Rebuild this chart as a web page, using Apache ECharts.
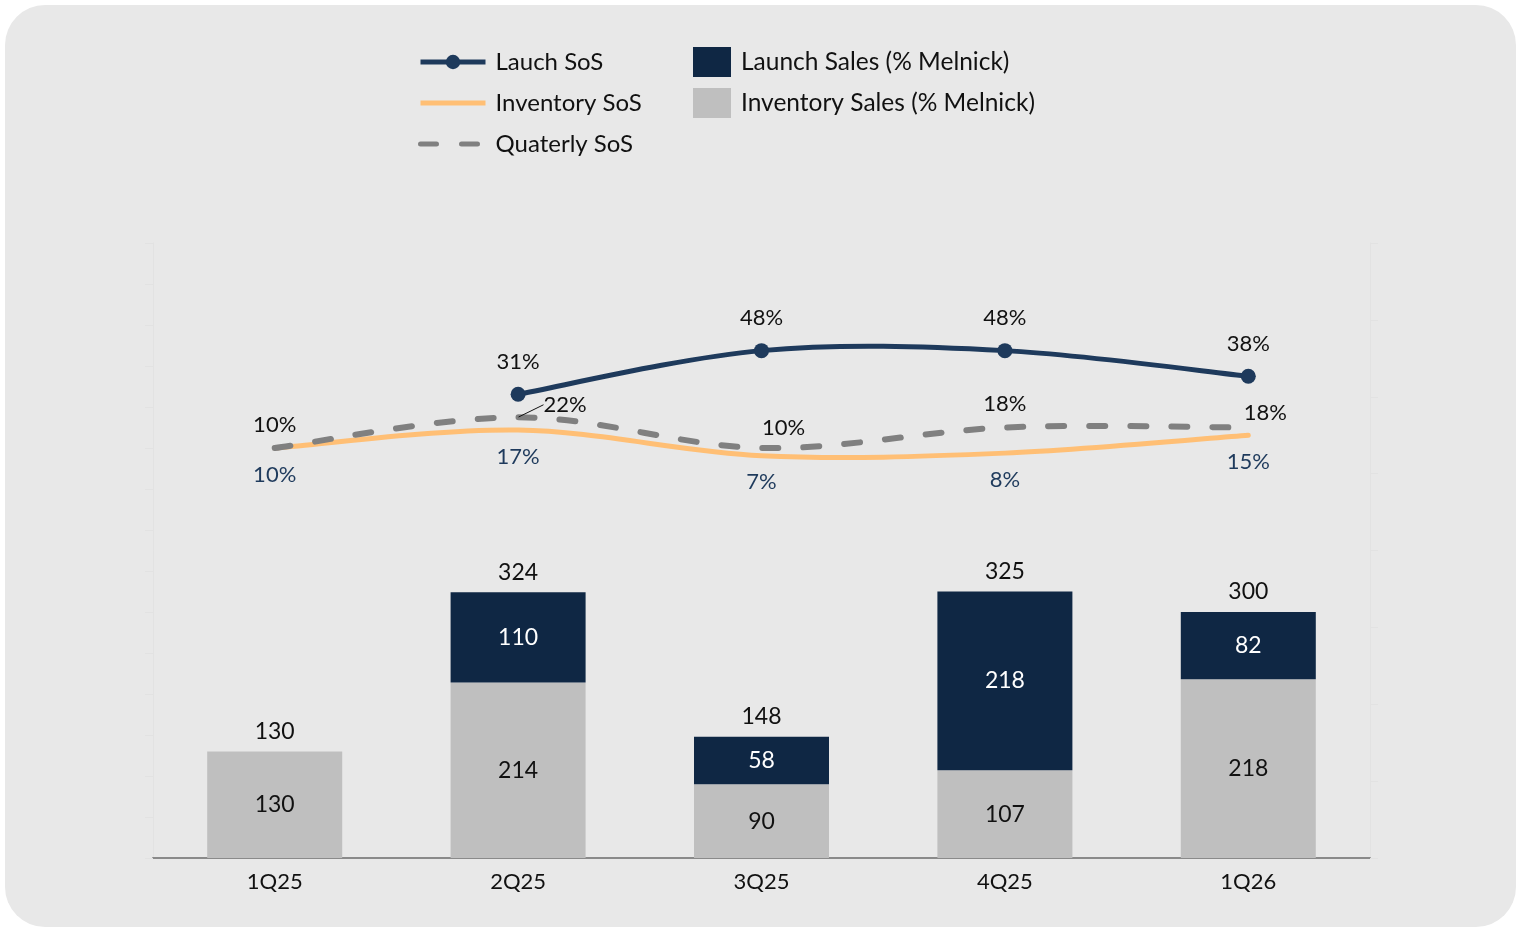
<!DOCTYPE html>
<html lang="en">
  <head>
    <meta charset="UTF-8" />
    <title>Launch and Inventory SoS</title>
    <script src="https://cdn.jsdelivr.net/npm/echarts@6/dist/echarts.min.js"></script>
    <style>
      * { margin: 0; padding: 0; box-sizing: border-box; }
      body { width: 1517px; height: 929px; background: #fff; overflow: hidden; }
      #panel {
        position: absolute; left: 5px; top: 5px; width: 1511px; height: 922px;
        background: #e8e8e8; border-radius: 40px;
      }
      #chart { position: absolute; left: 0; top: 0; width: 1517px; height: 929px; }
    </style>
  </head>
  <body>
    <div id="panel"></div>
    <div id="chart"></div>
    <script>
      // data
      const quarters = ["1Q25", "2Q25", "3Q25", "4Q25", "1Q26"];
      const inventorySales = [130, 214, 90, 107, 218];
      const launchSales = [null, 110, 58, 218, 82];
      const totalSales = [130, 324, 148, 325, 300];
      const launchSoS = [null, 31, 48, 48, 38];
      const inventorySoS = [10, 17, 7, 8, 15];
      const quarterlySoS = [10, 22, 10, 18, 18];

      const FONT = "Lato";
      const NAVY = "#0f2744";
      const LINE_NAVY = "#1e3a5c";
      const ORANGE = "#ffbf75";
      const GRAY_BAR = "#bfbfbf";
      const DASH = "#808080";
      const DASH_PATTERN = [16, 25];

      const chart = echarts.init(document.getElementById("chart"), null, { renderer: "canvas" });

      const pct = (p) => p.value + "%";

      // excel-like smoothed curve (catmull-rom as bezier), drawn once through the axes
      function curveSeries(values, style, z) {
        const pts = values.map((v, i) => [i, v]).filter((p) => p[1] != null);
        return {
          type: "custom", yAxisIndex: 1, silent: true, z: z,
          data: pts,
          renderItem: function (params, api) {
            if (params.dataIndex !== 0) return null;
            const c = pts.map((p) => api.coord(p));
            let d = "M" + c[0][0] + " " + c[0][1];
            for (let i = 0; i < c.length - 1; i++) {
              const p0 = c[Math.max(i - 1, 0)], p1 = c[i], p2 = c[i + 1];
              const p3 = c[Math.min(i + 2, c.length - 1)];
              const a = [p1[0] + (p2[0] - p0[0]) / 6, p1[1] + (p2[1] - p0[1]) / 6];
              const b = [p2[0] - (p3[0] - p1[0]) / 6, p2[1] - (p3[1] - p1[1]) / 6];
              d += " C" + a[0] + " " + a[1] + " " + b[0] + " " + b[1] + " " + p2[0] + " " + p2[1];
            }
            return {
              type: "path",
              shape: { pathData: d },
              style: Object.assign({ fill: "none", lineCap: "round", lineJoin: "round" }, style)
            };
          }
        };
      }

      const option = {
        backgroundColor: "transparent",
        textStyle: { fontFamily: FONT },
        animation: false,
        legend: [
          {
            left: 413, top: 45, orient: "vertical",
            itemWidth: 65, itemHeight: 18, itemGap: 17,
            lineStyle: { width: 5 },
            textStyle: { fontSize: 24, color: "#111", fontFamily: FONT, padding: [0, 0, 0, 5] },
            data: ["Lauch SoS", "Inventory SoS", "Quaterly SoS"]
          },
          {
            left: 688, top: 42, orient: "vertical", icon: "rect",
            itemWidth: 38, itemHeight: 30, itemGap: 11,
            textStyle: { fontSize: 24.5, color: "#111", fontFamily: FONT, padding: [0, 0, 0, 5] },
            data: ["Launch Sales (% Melnick)", "Inventory Sales (% Melnick)"]
          }
        ],
        grid: { left: 153, right: 147, top: 243, bottom: 71 },
        xAxis: {
          type: "category",
          data: quarters,
          axisLine: { lineStyle: { color: "#8a8a8a", width: 2 } },
          axisTick: { show: false },
          axisLabel: { fontSize: 22, color: "#111", fontFamily: FONT, margin: 13 }
        },
        yAxis: [
          {
            type: "value", min: 0, max: 750, interval: 50,
            axisLine: { show: true, lineStyle: { color: "#e2e2e2" } },
            axisTick: { show: true, length: 8, lineStyle: { color: "#e2e2e2" } },
            axisLabel: { show: false },
            splitLine: { show: false }
          },
          {
            type: "value", min: -150, max: 90, interval: 30,
            axisLine: { show: true, lineStyle: { color: "#e2e2e2" } },
            axisTick: { show: true, length: 8, lineStyle: { color: "#e2e2e2" } },
            axisLabel: { show: false },
            splitLine: { show: false }
          }
        ],
        series: [
          {
            name: "Inventory Sales (% Melnick)",
            type: "bar", stack: "sales", barWidth: 135,
            data: inventorySales,
            itemStyle: { color: GRAY_BAR },
            label: { show: true, position: "inside", fontSize: 23, color: "#111", fontFamily: FONT }
          },
          {
            name: "Launch Sales (% Melnick)",
            type: "bar", stack: "sales", barWidth: 135,
            data: launchSales,
            itemStyle: { color: NAVY },
            label: { show: true, position: "inside", fontSize: 23, color: "#fff", fontFamily: FONT }
          },
          {
            name: "Total",
            type: "scatter",
            data: totalSales,
            symbolSize: 1,
            silent: true,
            itemStyle: { color: "rgba(0,0,0,0)", opacity: 1 },
            label: { show: true, position: "top", distance: 8, fontSize: 23, color: "#111", fontFamily: FONT }
          },

          // curves
          curveSeries(inventorySoS, { stroke: ORANGE, lineWidth: 5 }, 2),
          curveSeries(quarterlySoS, { stroke: DASH, lineWidth: 6, lineDash: DASH_PATTERN }, 3),
          curveSeries(launchSoS, { stroke: LINE_NAVY, lineWidth: 5 }, 4),

          // points, labels and legend entries
          {
            name: "Quaterly SoS",
            type: "line", yAxisIndex: 1,
            // only the 2Q25 label gets a leader line
            data: quarterlySoS.map((v, i) => (i === 1 ? { value: v, labelLine: { show: true } } : v)),
            symbol: "circle", symbolSize: 1,
            lineStyle: { color: DASH, width: 0, type: DASH_PATTERN, cap: "round" },
            itemStyle: { color: "rgba(0,0,0,0)" },
            label: {
              show: true, position: "top", distance: 12, fontSize: 22, color: "#111",
              fontFamily: FONT, formatter: pct
            },
            labelLine: { show: false, lineStyle: { color: "#111", width: 1 } },
            labelLayout: function (p) {
              if (p.dataIndex === 1) return { dx: 47, dy: 11 };
              if (p.dataIndex === 2) return { dx: 22, dy: 3 };
              if (p.dataIndex === 4) return { dx: 17, dy: 9 };
              return {};
            },
            z: 5
          },
          {
            name: "Inventory SoS",
            type: "line", yAxisIndex: 1,
            data: inventorySoS,
            symbol: "circle", symbolSize: 1,
            lineStyle: { color: ORANGE, width: 0 },
            itemStyle: { color: "rgba(0,0,0,0)" },
            label: {
              show: true, position: "bottom", distance: 15, fontSize: 22, color: LINE_NAVY,
              fontFamily: FONT, formatter: pct
            },
            z: 5
          },
          {
            name: "Lauch SoS",
            type: "line", yAxisIndex: 1,
            data: launchSoS,
            symbol: "circle", symbolSize: 15,
            lineStyle: { color: LINE_NAVY, width: 0 },
            itemStyle: { color: LINE_NAVY },
            label: {
              show: true, position: "top", distance: 14, fontSize: 22, color: "#111",
              fontFamily: FONT, formatter: pct
            },
            z: 6
          }
        ]
      };

      chart.setOption(option);
    </script>
  </body>
</html>
